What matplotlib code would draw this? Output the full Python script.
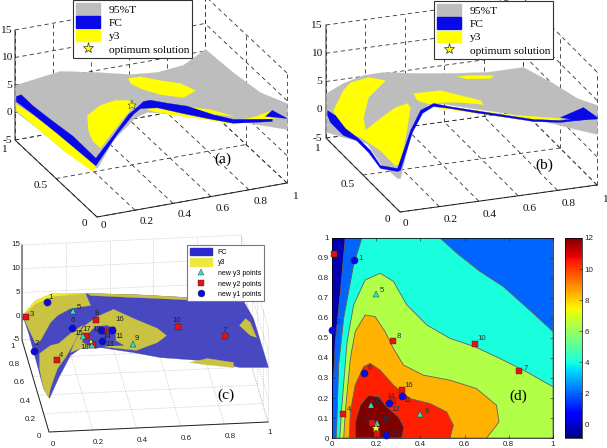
import numpy as np
import matplotlib
matplotlib.use("Agg")
import matplotlib.pyplot as plt
from matplotlib.cm import ScalarMappable
from matplotlib.colors import Normalize
from matplotlib.lines import Line2D
from matplotlib.patches import Patch
from mpl_toolkits.mplot3d import proj3d
from mpl_toolkits.mplot3d.art3d import Poly3DCollection

W, H = 607, 448
plt.rcParams['font.family'] = ['Liberation Sans', 'DejaVu Sans']

GRAY, BLUE, YELLOW = '#bdbdbd', '#0808e8', '#ffff00'
SHEET, OLIVE = '#4848c0', '#c9c243'

# panel (a): outlines on the surfaces, (x, y, z)
a_gray = [(0, 1, 5), (.116, 1, 5.55), (.237, 1, 6.1), (.43, 1, 4.7), (.605, 1, 3.25), (.747, 1, 2.75),
          (.884, 1, 3.2), (1, 1, 5.4), (1, .66, 5.9), (1, .33, 6.9), (1, 0, 9.5), (1, 0, 4.8), (.874, 0, 6.3),
          (.716, 0, 8.2), (.542, 0, 10.2), (.368, 0, 11.6), (.263, 0, 12.5), (.2, 0, 11.9), (.084, 0, 8.5),
          (0, 0, 3.9), (0, .366, 1.5), (0, .73, .96), (0, .94, .4), (0, 1, .45)]
a_fc_main = [(0, .93, 4.3), (0, .78, 4.3), (0, .57, 4.8), (0, .3, 5.6), (0, .02, 5.5), (.068, 0, 8.8),
             (.163, 0, 12.7), (.216, 0, 13.9), (.242, 0, 14.6), (.279, 0, 14.6), (.368, 0, 13.5), (.474, 0, 12.3),
             (.61, 0, 9.9), (.716, 0, 8.4), (.92, 0, 7.2), (.92, 0, 6.76), (.716, 0, 7.7), (.58, 0, 9.4),
             (.437, 0, 11.3), (.316, 0, 13), (.226, 0, 13.4), (.19, 0, 12.6), (.105, 0, 9.5), (0, .02, 4.1),
             (0, .23, 3.8), (0, .49, 3.4), (0, .78, 2.8), (0, .99, 2.2), (0, .99, 3.15)]
a_fc_end = [(.884, 0, 7.9), (.92, 0, 8.8), (1, 0, 6.8), (.95, 0, 7.3)]
a_y3_left = [(0, .99, 1.7), (0, .78, 2.6), (0, .49, 3.6), (0, .23, 3.96), (0, .02, 4.2), (0, .05, 2.6),
             (0, .366, 1.5), (0, .73, .96), (0, .99, .6)]
a_y3_centre = [(.077, .3, 8.87), (.145, .3, 10.3), (.224, .3, 10.7), (.293, .3, 10.3), (.319, .3, 9),
               (.277, .3, 7.6), (.208, .3, 5), (.145, .3, 2.5), (.103, .3, 4.2), (.082, .3, 6.1)]
a_y3_top = [(.422, .6, 9.3), (.485, .6, 9.2), (.59, .6, 7.85), (.696, .6, 6.65), (.775, .6, 4.9),
            (.712, .6, 4), (.59, .6, 5.3), (.485, .6, 7.05), (.433, .6, 8.3)]
a_y3_lower = [(.242, 0, 13.5), (.437, 0, 11.7), (.61, 0, 9.4), (.716, 0, 7.85), (.716, 0, 7.5), (.542, 0, 9.65),
              (.384, 0, 11.3), (.279, 0, 12.7)]
a_y3_upper = [(.474, 0, 12.25), (.61, 0, 10.7), (.716, 0, 8.95), (.61, 0, 10.05)]
a_y3_right = [(.716, 0, 8), (.832, 0, 8.2), (.92, 0, 8.76), (.937, 0, 7.2), (.832, 0, 7.5)]
a_star = (.206, .05, 13.4)

# panel (b)
b_gray = [(0, 1, 2.96), (.086, 1, 4.33), (.188, 1, 5.25), (.289, 1, 5.3), (.462, 1, 4.3), (.63, 1, 3.5),
          (.817, 1, 2.8), (1, 1, 2.8), (1, .6, 5.2), (1, .27, 6.86), (1, 0, 9.16), (1, 0, 4.03), (.848, 0, 6),
          (.675, 0, 8.4), (.543, 0, 9.9), (.37, 0, 11.6), (.203, 0, 13.3), (.137, 0, 13.3), (.066, 0, 10.4),
          (0, 0, 1), (0, .04, .5), (0, .27, .13), (0, .45, 1.3), (0, .77, -1.8), (0, 1, -3.9)]
b_fc_main = [(0, .986, .13), (0, .878, .66), (0, .743, .13), (0, .568, .66), (0, .405, .66), (0, .27, -.22),
             (0, .04, 2.26), (.051, 0, 9.27), (.102, 0, 12.6), (.168, 0, 13.5), (.254, 0, 12.5), (.371, 0, 11.3),
             (.543, 0, 9.57), (.675, 0, 8.24), (.812, 0, 7.4), (.898, 0, 7.35), (1, 0, 7.04), (1, 0, 6.77),
             (.898, 0, 7), (.812, 0, 7.05), (.675, 0, 7.88), (.543, 0, 9.21), (.371, 0, 10.93), (.254, 0, 12.19),
             (.168, 0, 12.96), (.112, 0, 12), (.061, 0, 8.88), (0, 0, 2.43), (0, .04, 1.73), (0, .27, -.75),
             (0, .432, -.04), (0, .595, -.04), (0, .77, -1.46), (0, .946, -1.46), (0, .986, -.75)]
b_fc_end = [(.812, 0, 7.94), (.929, 0, 9.14), (1, 0, 7.04), (.898, 0, 7)]
b_y3_big = [(.036, 1, -.22), (.086, 1, 3.1), (.122, 1, 4.3), (.213, 1, 4.77), (.3, 1, 3.83), (.213, 1, 1.23),
            (.188, 1, -2.2), (.198, 1, -4.5), (.274, 1, -2.77), (.35, 1, -1.2), (.411, 1, -.77), (.426, 1, -1.55),
            (.223, .5, 2.42), (.188, .5, -3.76), (.162, .5, -4.06), (.086, .5, -.99), (.023, .6, .31),
            (.107, 1, -4.45), (.046, 1, -1.5)]
b_y3_mid = [(.254, .5, 8.3), (.391, .5, 8.17), (.492, .5, 6.8), (.594, .5, 5.44), (.609, .5, 4.66),
            (.492, .5, 5.57), (.391, .5, 6.04), (.34, .5, 5.94), (.274, .5, 6.96)]
b_y3_top = [(.665, 1, 2.79), (.731, 1, 2.66), (.848, 1, 2.1), (.832, 1, 1.64), (.716, 1, 2.11)]
b_y3_strip = [(.168, 0, 13.3), (.355, 0, 11.5), (.543, 0, 9.74), (.812, 0, 7.76), (.812, 0, 7.3),
              (.543, 0, 9.2), (.355, 0, 11), (.168, 0, 12.8)]

# panel (c)
c_sheet = [(0, 1, .26), (.068, 1, 2.85), (.142, 1, 4.39), (.297, 1, 4.26), (.507, 1, 3.6), (.753, 1, 2.47),
           (1, 1, 1.95), (1, .556, 6.14), (1, 0, 6.58), (.872, 0, 6.85), (.689, 0, 8.7), (.507, 0, 9.7),
           (.384, 0, 11), (.233, 0, 12.4), (.142, 0, 12.4), (.096, 0, 11), (.041, 0, 6.3), (0, 0, 2.16),
           (0, .222, -.03), (0, .52, .5), (0, .78, .94)]
c_y3_upper = [(0, 1, .26), (.059, 1, 3.29), (.137, 1, 4.6), (.288, 1, 4.28), (.311, 1, 1.72), (.219, 1, 1.27),
              (.16, 1, -.07), (.128, 1, -1.48), (.07, .9, -3.2), (.047, .9, -3.8), (.027, 1, -2.54)]
c_y3_lower = [(.016, .5, 1.9), (.066, .5, 3.5), (.103, .5, 3.84), (.158, .5, 5.82), (.212, .5, 7.4), (.194, .5, 5.76),
              (.167, .5, 3.27), (.135, .5, .83), (.098, .5, -1.42), (.029, .2, .33), (.008, .1, .41), (0, .22, -.03),
              (0, .37, 1.32)]
c_y3_centre = [(.18, .5, 4.3), (.217, .5, 7.17), (.281, .5, 9.15), (.354, .5, 10.5), (.445, .5, 8.38), (.555, .5, 6.05),
               (.596, .5, 4.47), (.555, .5, 3.1), (.459, .5, 1.64), (.295, .5, 2.79), (.203, .5, 2.58), (.158, .5, 1.82)]
c_fc_hole = [(.217, .5, 4.64), (.272, .5, 7.06), (.326, .5, 7.15), (.363, .5, 6.03), (.363, .5, 3.93), (.4, .5, 2.79),
             (.331, .5, 2.85), (.272, .5, 2.43), (.212, .5, 3.9)]
c_y3_top = [(.297, 1, 4.26), (.507, 1, 3.6), (.753, 1, 2.47), (1, 1, 1.95), (.995, 1, 1.53), (.753, 1, 1.95),
            (.621, 1, 2.54), (.507, 1, 2.98), (.311, 1, 3.82)]
c_y3_right = [(.929, .5, 5.88), (.957, .5, 7.3), (.979, .5, 6.41), (1, .44, 4.37), (.979, .5, 3.67)]
c_y3_bottom = [(.639, 0, 8.39), (.721, 0, 9.06), (.84, 0, 7.97), (.84, 0, 6.92), (.749, 0, 7.53), (.703, 0, 7.84)]
c_y3_rim = [(0, 1, .26), (.059, 1, 3.29), (.137, 1, 4.6), (.288, 1, 4.28), (.137, 1, 4), (.059, 1, 2.6)]

# experiment points, same (x, y) in panels (c) and (d); z only in (c)
y1_ids = [1, 2, 6, 11, 13, 14]
y1_x = [.10, 0, .145, .315, .245, .26]
y1_y = [.89, .54, .325, .21, .015, .175]
y1_z = [4.9, 1.6, 10.3, 11.7, 13.4, 12.5]
y2_ids = [3, 4, 7, 8, 10, 12, 16, 17, 19]
y2_x = [.01, .05, .845, .275, .645, .275, .315, .18, .205]
y2_y = [.92, .12, .335, .485, .47, .185, .24, .075, .02]
y2_z = [1.4, 7.7, 6.9, 8.6, 6.6, 12.1, 11.2, 13.4, 12.5]
y3_ids = [5, 9, 15, 18]
y3_x = [.2, .4, .175, .205]
y3_y = [.72, .12, .165, .075]
y3_z = [6.1, 10.4, 11.6, 11.4]
opt_x, opt_y, opt_z = .2, .05, 12.6

# panel (d): filled level regions
level_values = [2, 4, 6.4, 8.4, 10.4, 12]
level_x = [
    [.06, .038, .015, .008, .003, 1, 1],
    [.135, .098, .053, .03, .02, 1, 1, .91, .774, .669, .564, .489],
    [.035, .045, .068, .098, .15, .218, .278, .338, .429, .534, .647, .759, .88, 1, 1],
    [.053, .06, .083, .105, .15, .195, .24, .278, .323, .414, .534, .654, .744, .756, .7],
    [.078, .083, .105, .143, .173, .218, .278, .353, .444, .519, .549, .534],
    [.105, .105, .128, .165, .21, .248, .301, .326, .316],
]
level_y = [
    [1, .73, .48, .31, 0, 0, 1],
    [1, .866, .6, .365, 0, 0, .532, .624, .758, .833, .925, 1],
    [0, .164, .48, .666, .79, .824, .783, .666, .565, .498, .456, .398, .331, .256, 0],
    [0, .13, .398, .532, .615, .607, .532, .448, .365, .314, .289, .247, .164, .08, 0],
    [0, .13, .264, .356, .373, .339, .264, .197, .172, .13, .064, 0],
    [0, .08, .164, .214, .206, .156, .105, .055, 0],
]
cbar_ticks = [0, 2, 4, 6, 8, 10, 12]

x_ticks = [0, .2, .4, .6, .8, 1]
z_ticks = [-5, 0, 5, 10, 15]

c_label_off = {1: (4, -5), 2: (2, -7), 3: (5, -2), 4: (4, -5), 5: (5, -4), 6: (1, -7), 7: (0, -6), 8: (1, -7),
               9: (3, -5), 10: (-1, -7), 11: (7, 6), 12: (-7, -2), 13: (7, 4), 14: (6, 6), 15: (-4, -3),
               16: (8, -10), 17: (0, -6), 18: (-7, 2)}
d_label_off = {1: (6, -2), 2: (6, -7), 3: (6, -5), 4: (6, -5), 5: (6, -4), 6: (6, -5), 7: (7, -3), 8: (6, -5),
               9: (6, -3), 10: (7, -6), 11: (6, 4), 12: (3, 8), 13: (9, -2), 14: (1, -7), 15: (7, -4), 16: (7, -5),
               17: (-6, -3), 18: (8, -4)}


def box_axes(fig, p0, px, py, zlen):
    # fit an orthographic 3d axes on the pixel corners of the floor
    xh, xu = px[0] - p0[0], p0[1] - px[1]
    yh, yu = py[0] - p0[0], p0[1] - py[1]
    r1, r2 = xu / xh, yu / -yh
    sin_el = np.sqrt(r1 * r2)
    az = np.pi + np.arctan(r2 / sin_el)
    el = np.arcsin(sin_el)
    a, b = xh / abs(np.sin(az)), -yh / abs(np.cos(az))
    c = zlen / np.cos(el)
    norm = np.sqrt(a * a + b * b + c * c)
    size = norm * 1.85 / (1.8294640721620434 * 25 / 24)
    cx = p0[0] + (xh + yh) / 2
    cy = p0[1] - (xu + yu + zlen) / 2
    frac = .095 / .185
    ax = fig.add_axes([(cx - frac * size) / W, (H - cy - frac * size) / H, size / W, size / H],
                      projection='3d', computed_zorder=False)
    ax.set_proj_type('ortho')
    ax.set_box_aspect((a, b, c))
    ax.view_init(elev=np.degrees(el), azim=np.degrees(az))
    ax.set_xlim(0, 1)
    ax.set_ylim(0, 1)
    ax.set_zlim(-5, 15)
    ax.set_axis_off()
    ax.patch.set_visible(False)
    return ax


def text3d(ax, x, y, z, s, dx, dy, **kw):
    # label at a data point, shifted by screen pixels (dy is downwards)
    px, py, _ = proj3d.proj_transform(x, y, z, ax.get_proj())
    ax.annotate(s, (px, py), xytext=(dx, -dy), textcoords='offset pixels', annotation_clip=False, zorder=9,
                ha=kw.pop('ha', 'center'), va='center', **kw)


def draw_box(ax, yticks, grid_kw, font, xoff, yoff, zoff):
    for t in x_ticks:
        ax.plot([t, t], [0, 1], [-5, -5], zorder=1, **grid_kw)
        ax.plot([t, t], [1, 1], [-5, 15], zorder=1, **grid_kw)
    for t in yticks:
        ax.plot([0, 1], [t, t], [-5, -5], zorder=1, **grid_kw)
        ax.plot([1, 1], [t, t], [-5, 15], zorder=1, **grid_kw)
    for t in z_ticks:
        ax.plot([0, 1], [1, 1], [t, t], zorder=1, **grid_kw)
        ax.plot([1, 1], [0, 1], [t, t], zorder=1, **grid_kw)
    ax.plot([1, 0, 0, 0], [0, 0, 1, 1], [-5, -5, -5, 15], color='#222222', lw=.7, zorder=1.5)
    for t in x_ticks:
        off = xoff[0] if t == 0 else xoff[2] if t == 1 else xoff[1]
        text3d(ax, t, 0, -5, f'{t:g}', off[0], off[1], **font)
    for t in yticks:
        off = yoff[0] if t == 0 else yoff[2] if t == 1 else yoff[1]
        text3d(ax, 0, t, -5, f'{t:g}', off[0], off[1], **font)
    for t in z_ticks:
        text3d(ax, 0, 1, t, f'{t:g}', zoff, 0, ha='right', **font)


def add_region(ax, pts, color, z):
    ax.add_collection3d(Poly3DCollection([pts], facecolors=color, edgecolors=color, linewidths=.2, zorder=z))


def points3d(ax, xs, ys, zs, marker, color, size, edge='#222222', z=6):
    ax.plot(xs, ys, zs, linestyle='none', marker=marker, color=color, markersize=size,
            markeredgecolor=edge, markeredgewidth=.3, zorder=z)


def add_legend(fig, handles, labels, left, top, **kw):
    leg = fig.legend(handles, labels, loc='upper left', bbox_to_anchor=(left / W, 1 - top / H), borderaxespad=0,
                     fancybox=False, framealpha=1, **kw)
    leg.get_frame().set_linewidth(.8)
    return leg


fig = plt.figure(figsize=(W / 100, H / 100), dpi=100, facecolor='white')
serif = dict(family=['Liberation Serif', 'DejaVu Serif'], fontsize=8.2, color='#111111')
sans = dict(fontsize=5.8, color='#222222')
dash = dict(color='#333333', lw=.6, linestyle=(0, (5, 4)))
dots = dict(color='#b4b4b4', lw=.5, linestyle=(0, (1, 1.5)))

# (a)
ax = box_axes(fig, (97, 217), (287, 183), (15, 140), 110)
draw_box(ax, [0, .5, 1], dash, serif, [(6, 8), (12, 11.5), (8, 13)], [(-13, 6), (-15, 6.5), (-11, 9)], -3)
add_region(ax, a_gray, GRAY, 2)
for r in [a_y3_left, a_y3_centre, a_y3_top, a_y3_lower, a_y3_upper, a_y3_right]:
    add_region(ax, r, YELLOW, 3)
add_region(ax, a_fc_main, BLUE, 4)
add_region(ax, a_fc_end, BLUE, 4)
points3d(ax, [a_star[0]], [a_star[1]], [a_star[2]], '*', YELLOW, 6.5, z=6)

# (b)
ax = box_axes(fig, (400, 212), (597, 185), (326, 138), 113)
draw_box(ax, [0, .5, 1], dash, serif, [(5, 12), (11, 13), (8, 15)], [(-13, 8), (-15, 9), (-9, 10)], -4)
add_region(ax, b_gray, GRAY, 2)
for r in [b_y3_big, b_y3_mid, b_y3_top, b_y3_strip]:
    add_region(ax, r, YELLOW, 3)
add_region(ax, b_fc_main, BLUE, 4)
add_region(ax, b_fc_end, BLUE, 4)

# (c)
ax = box_axes(fig, (49, 432), (268, 422), (22, 340), 95)
draw_box(ax, x_ticks, dots, sans, [(4, 12), (6, 12), (2, 11)], [(-10, 5), (-13, 6), (-9, 7)], -2)
add_region(ax, c_sheet, SHEET, 2)
for r in [c_y3_upper, c_y3_lower, c_y3_centre, c_y3_top, c_y3_right, c_y3_bottom]:
    add_region(ax, r, OLIVE, 3)
add_region(ax, c_y3_rim, '#eeea30', 3)
add_region(ax, c_fc_hole, SHEET, 4)
points3d(ax, y2_x, y2_y, y2_z, 's', '#e81010', 4.4)
points3d(ax, y1_x, y1_y, y1_z, 'o', '#0a0ae0', 5.2, z=6.5)
points3d(ax, y3_x, y3_y, y3_z, '^', '#30e0c0', 4, z=7)
points3d(ax, [opt_x], [opt_y], [opt_z], '*', YELLOW, 5, z=8)
for ids, xs, ys, zs in [(y1_ids, y1_x, y1_y, y1_z), (y2_ids, y2_x, y2_y, y2_z), (y3_ids, y3_x, y3_y, y3_z)]:
    for i, x, y, z in zip(ids, xs, ys, zs):
        if i in c_label_off:
            text3d(ax, x, y, z, str(i), *c_label_off[i], fontsize=5.6, color='#222222')

# (d)
ax = fig.add_axes([332 / W, 1 - 438 / H, 221 / W, 200 / H])
norm = Normalize(-.9, 12)
ax.set_facecolor(plt.cm.jet(norm(-.3)))
for lev, xs, ys in zip(level_values, level_x, level_y):
    ax.fill(xs, ys, facecolor=plt.cm.jet(norm(lev)), edgecolor='#606060', lw=.6)
ax.plot(y2_x, y2_y, linestyle='none', marker='s', color='#e81010', markersize=4.4, markeredgecolor='#333333',
        markeredgewidth=.3, clip_on=False, zorder=5)
ax.plot(y1_x, y1_y, linestyle='none', marker='o', color='#0a0ae0', markersize=5.2, markeredgecolor='#222222',
        markeredgewidth=.3, clip_on=False, zorder=6)
ax.plot(y3_x, y3_y, linestyle='none', marker='^', color='#30e0c0', markersize=4.6, markeredgecolor='#333333',
        markeredgewidth=.3, clip_on=False, zorder=7)
ax.plot([opt_x], [opt_y], linestyle='none', marker='*', color=YELLOW, markersize=6.5, markeredgecolor='#444444',
        markeredgewidth=.3, zorder=8)
for ids, xs, ys in [(y1_ids, y1_x, y1_y), (y2_ids, y2_x, y2_y), (y3_ids, y3_x, y3_y)]:
    for i, x, y in zip(ids, xs, ys):
        if i in d_label_off:
            dx, dy = d_label_off[i]
            ax.annotate(str(i), (x, y), xytext=(dx, -dy), textcoords='offset pixels', ha='center', va='center',
                        fontsize=5.6, color='#223344', annotation_clip=False, zorder=9)
ax.set_xlim(0, 1)
ax.set_ylim(0, 1)
ax.set_xticks(x_ticks, [f'{t:g}' for t in x_ticks])
ax.set_yticks(np.arange(11) / 10, [f'{t / 10:g}' for t in range(11)])
ax.tick_params(direction='in', length=2, width=.4, labelsize=5.8, pad=2, colors='#222222', top=True, right=True)
for s in ax.spines.values():
    s.set_linewidth(.5)

cax = fig.add_axes([565 / W, 1 - 438 / H, 17 / W, 200 / H])
cb = fig.colorbar(ScalarMappable(norm=norm, cmap='jet'), cax=cax, ticks=cbar_ticks)
cb.ax.tick_params(length=2, width=.4, direction='in', labelsize=5.8, pad=2, colors='#222222')
cb.outline.set_linewidth(.5)

for s, x, y in [('(a)', 223, 159), ('(b)', 544, 165), ('(c)', 226, 395), ('(d)', 518, 396)]:
    fig.text(x / W, 1 - y / H, s, ha='center', va='center', fontsize=11, family=['Liberation Serif', 'DejaVu Serif'])

big_handles = [Patch(color=GRAY), Patch(color=BLUE), Patch(color=YELLOW),
               Line2D([], [], linestyle='none', marker='*', markersize=8, color=YELLOW, markeredgecolor='#333333',
                      markeredgewidth=.5)]
big_labels = ['95%T', 'FC', 'y3', 'optimum solution']
big_kw = dict(prop={'family': ['Liberation Serif', 'DejaVu Serif'], 'size': 8.2}, edgecolor='#333333', handlelength=2.1,
              handleheight=1.2, handletextpad=.8, labelspacing=.15, borderpad=.25)
add_legend(fig, big_handles, big_labels, 73, 0, **big_kw)
add_legend(fig, big_handles, big_labels, 434, 1, **big_kw)
small_handles = [Patch(color='#2a2acc'), Patch(color='#f0e840'),
                 Line2D([], [], linestyle='none', marker='^', markersize=4, color='#30e0c0', markeredgecolor='#333333',
                        markeredgewidth=.3),
                 Line2D([], [], linestyle='none', marker='s', markersize=4, color='#e81010', markeredgecolor='#333333',
                        markeredgewidth=.3),
                 Line2D([], [], linestyle='none', marker='o', markersize=5, color='#0a0ae0', markeredgecolor='#222222',
                        markeredgewidth=.3)]
add_legend(fig, small_handles, ['FC', 'y3', 'new y3 points', 'new y2 points', 'new y1 points'], 187, 245,
           prop={'size': 5}, edgecolor='#777777', handlelength=3.2, handleheight=1.2, handletextpad=.8, labelspacing=.4,
           borderpad=.4)

fig.savefig('out.png', dpi=100)
